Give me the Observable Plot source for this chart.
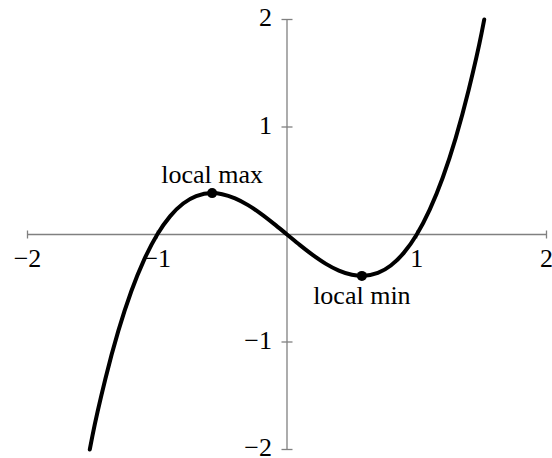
<!DOCTYPE html>
<html>
<head>
<meta charset="utf-8">
<script src="https://cdn.jsdelivr.net/npm/d3@7"></script>
<script src="https://cdn.jsdelivr.net/npm/@observablehq/plot@0.6"></script>
<style>
  html, body { margin: 0; padding: 0; background: #fff; }
  #chart svg { display: block; }
</style>
</head>
<body>
<div id="chart"></div>
<script>
// Curve samples
const curveX = [-1.52, -1.5, -1.4, -1.3, -1.2, -1.1, -1.0, -0.9, -0.8, -0.7, -0.577, -0.5, -0.4, -0.3, -0.2, -0.1, 0,
                0.1, 0.2, 0.3, 0.4, 0.5, 0.577, 0.7, 0.8, 0.9, 1.0, 1.1, 1.2, 1.3, 1.4, 1.5, 1.52];
const curveY = [-2.0, -1.875, -1.344, -0.897, -0.528, -0.231, 0, 0.171, 0.288, 0.357, 0.385, 0.375, 0.336, 0.273, 0.192, 0.099, 0,
                -0.099, -0.192, -0.273, -0.336, -0.375, -0.385, -0.357, -0.288, -0.171, 0, 0.231, 0.528, 0.897, 1.344, 1.875, 2.0];

// Marked extremes
const extremeX = [-0.577, 0.577];
const extremeY = [0.385, -0.385];
const extremeLabels = ["local max", "local min"];

// Ticks
const xTicks = [-2, -1, 1, 2];
const yTicks = [-2, -1, 1, 2];
const xTickLabels = ["\u22122", "\u22121", "1", "2"];
const yTickLabels = ["\u22122", "\u22121", "1", "2"];

const curve = curveX.map((x, i) => ({x, y: curveY[i]}));
const extremes = extremeX.map((x, i) => ({x, y: extremeY[i], label: extremeLabels[i]}));
const xt = xTicks.map((v, i) => ({v, label: xTickLabels[i]}));
const yt = yTicks.map((v, i) => ({v, label: yTickLabels[i]}));

const vTick = {draw(ctx) { ctx.moveTo(0, -4); ctx.lineTo(0, 4); }};
const hTick = {draw(ctx) { ctx.moveTo(-5.5, 0); ctx.lineTo(5.5, 0); }};
const gray = "#808080";
const font = "Liberation Serif, Times New Roman, serif";
const fs = 26;

const chart = Plot.plot({
  width: 552,
  height: 458,
  marginLeft: 27,
  marginRight: 6,
  marginTop: 19,
  marginBottom: 9,
  x: {domain: [-2, 2], axis: null},
  y: {domain: [-2, 2], axis: null},
  style: {fontFamily: font, fontSize: fs + "px", background: "#fff"},
  marks: [
    Plot.ruleY([0], {x1: -2, x2: 2, stroke: gray, strokeWidth: 1.3}),
    Plot.ruleX([0], {y1: -2, y2: 2, stroke: gray, strokeWidth: 1.3}),
    Plot.dot(xt, {x: "v", y: 0, symbol: vTick, r: 4, fill: "none", stroke: gray, strokeWidth: 1.3}),
    Plot.dot(yt, {x: 0, y: "v", symbol: hTick, r: 4, fill: "none", stroke: gray, strokeWidth: 1.3}),
    Plot.text(xt, {x: "v", y: 0, text: "label", dy: 24.5, fill: "#000", fontSize: fs}),
    Plot.text(yt, {x: 0, y: "v", text: "label", dx: -15, dy: -1.5, textAnchor: "end", fill: "#000", fontSize: fs}),
    Plot.line(curve, {x: "x", y: "y", curve: "monotone-x", stroke: "#000", strokeWidth: 4}),
    Plot.dot(extremes, {x: "x", y: "y", r: 5, fill: "#000"}),
    Plot.text(extremes, {x: "x", y: "y", text: "label", fill: "#000", fontSize: fs,
      filter: d => d.y > 0, dy: -18}),
    Plot.text(extremes, {x: "x", y: "y", text: "label", fill: "#000", fontSize: fs,
      filter: d => d.y < 0, dy: 19.5})
  ]
});
document.getElementById("chart").append(chart);
</script>
</body>
</html>
